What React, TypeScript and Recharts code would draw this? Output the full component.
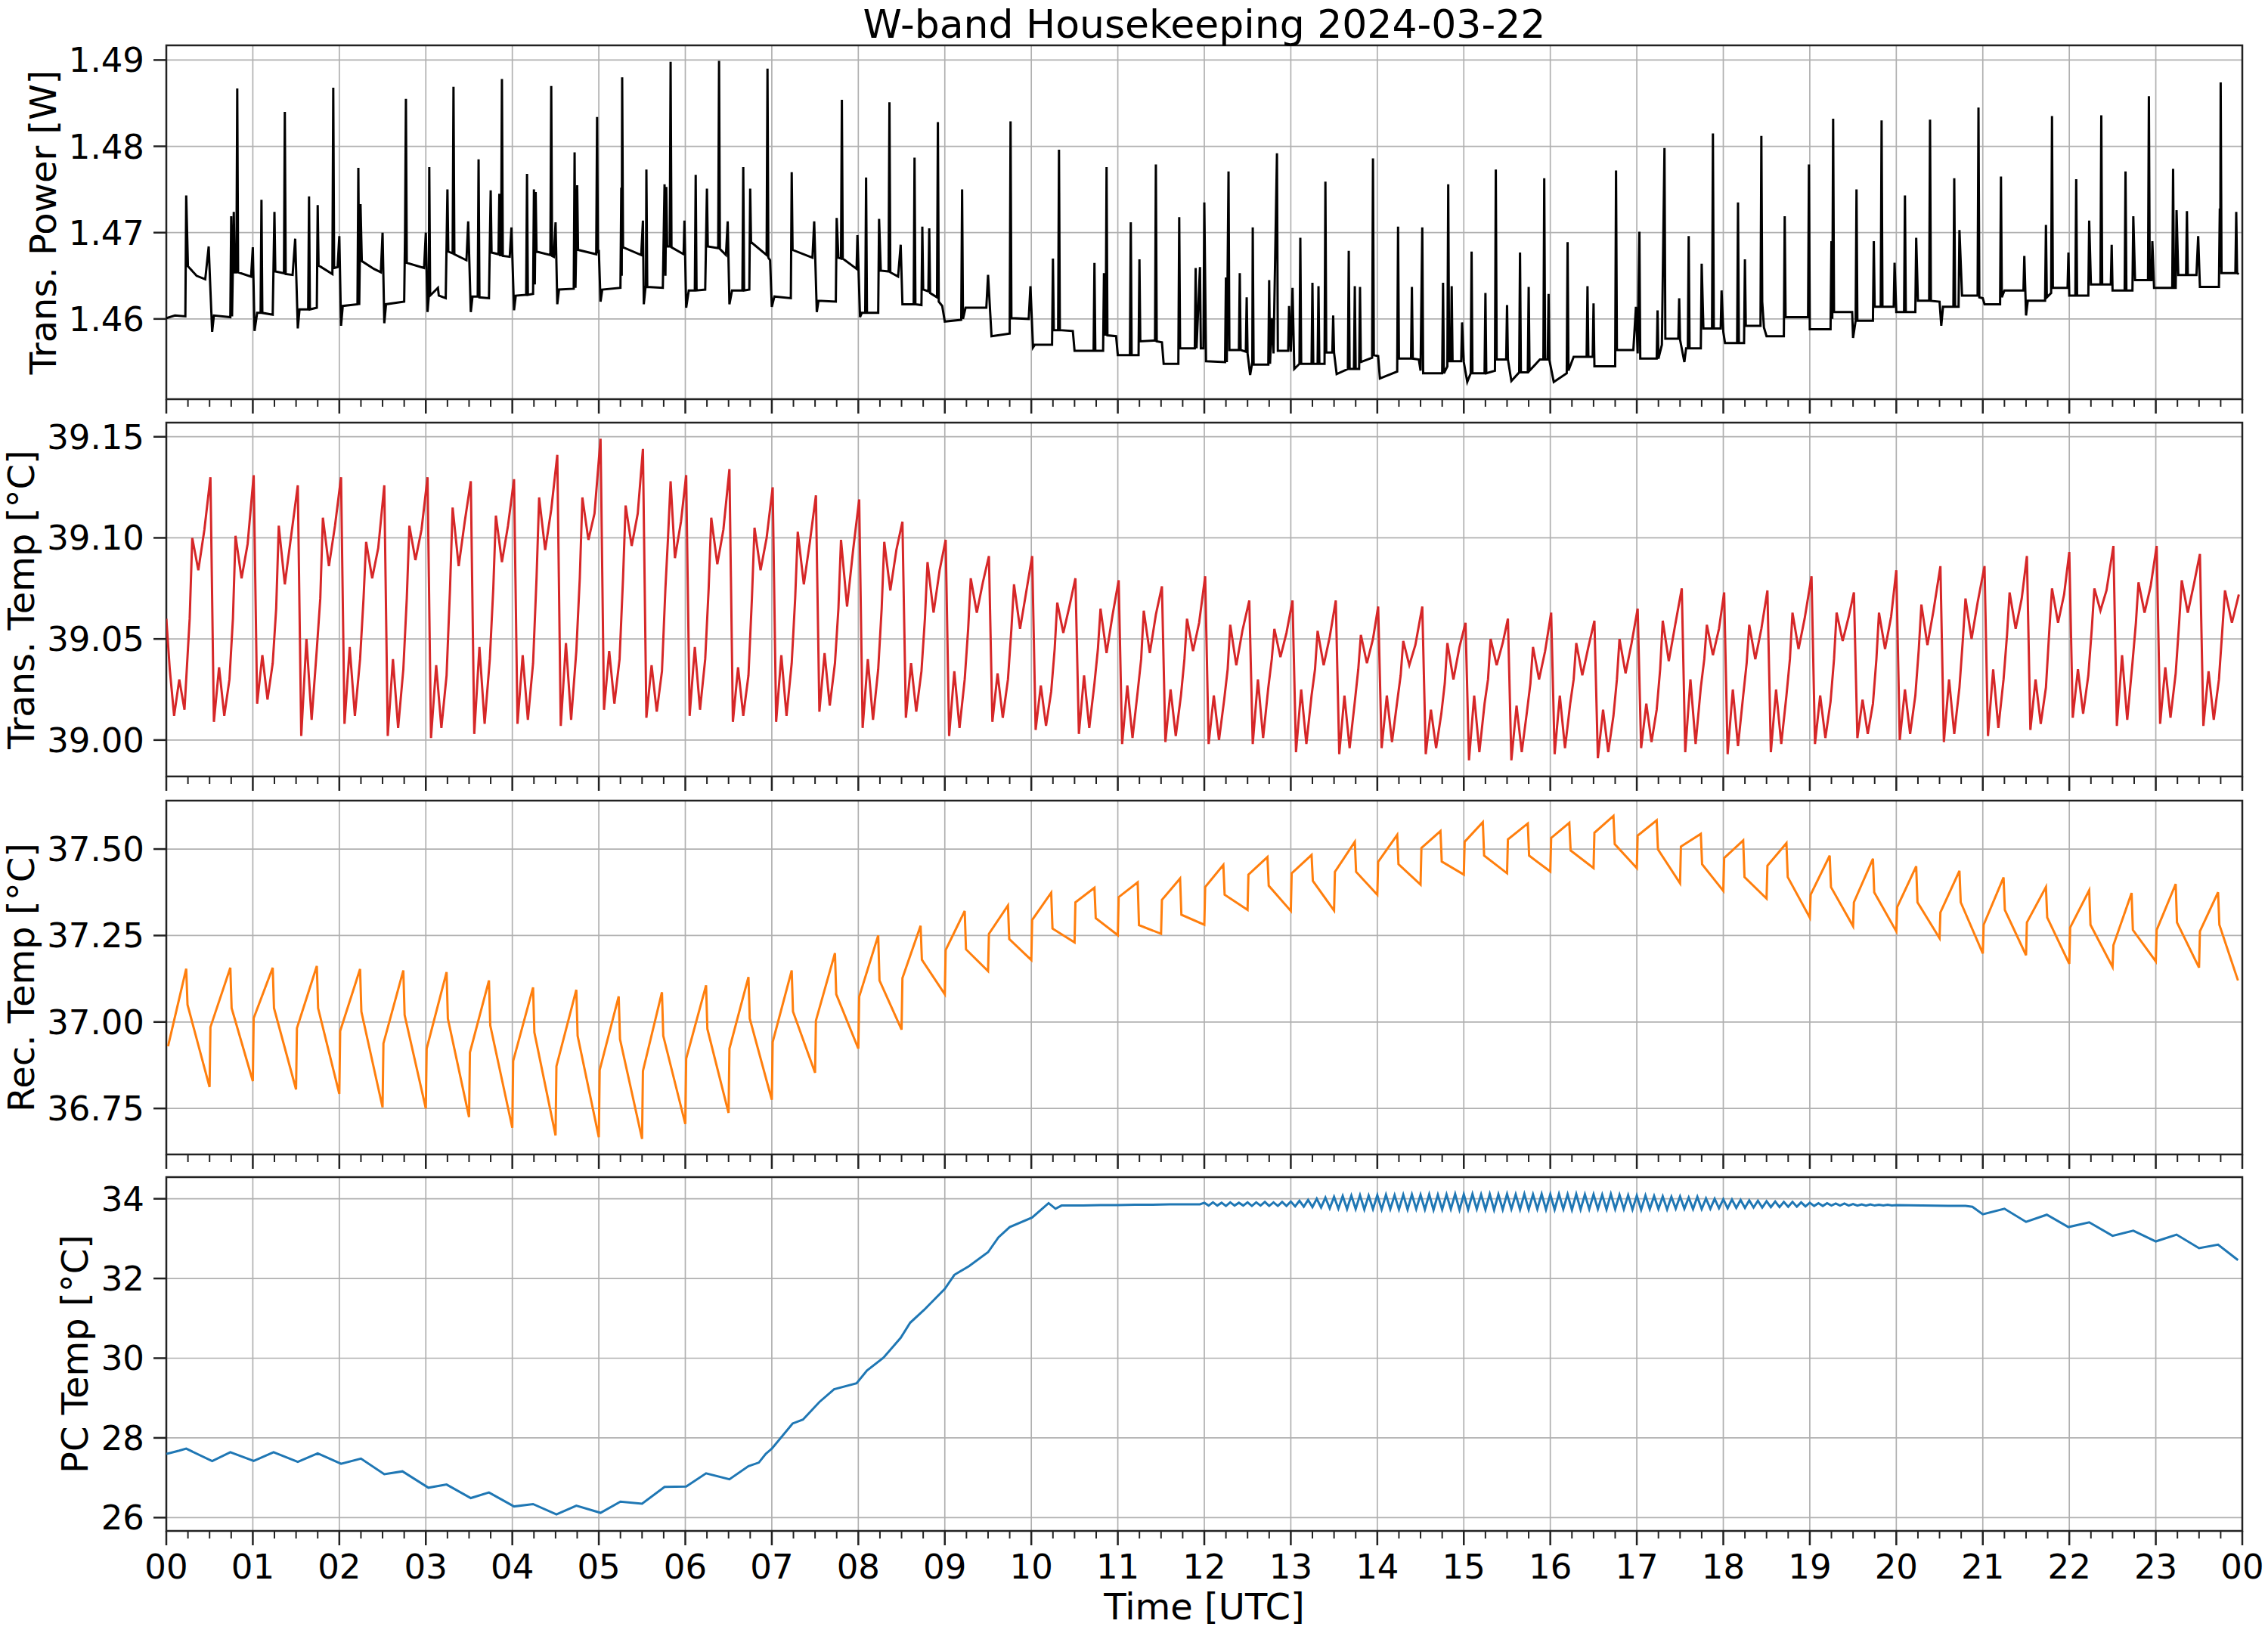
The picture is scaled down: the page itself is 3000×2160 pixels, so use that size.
import React from "react";
import {
  LineChart,
  Line,
  XAxis,
  YAxis,
  CartesianGrid,
  ReferenceArea,
} from "recharts";

type Pt = [number, number];

// time axis (hours UTC)
const hourTicks = Array.from({ length: 25 }, (_, i) => i);
const quarterTicks = Array.from({ length: 97 }, (_, i) => i / 4);

const powerTicks = [1.46, 1.47, 1.48, 1.49];
const transTempTicks = [39.0, 39.05, 39.1, 39.15];
const recTempTicks = [36.75, 37.0, 37.25, 37.5];
const pcTempTicks = [26, 28, 30, 32, 34];

const powerDomain: Pt = [1.4507, 1.4917];
const transTempDomain: Pt = [38.982, 39.157];
const recTempDomain: Pt = [36.617, 37.64];
const pcTempDomain: Pt = [25.665, 34.543];

// Trans. Power [W]
const transPower: Pt[] = [
  [0.0, 1.4601], [0.1, 1.4604], [0.22, 1.4603], [0.23, 1.4743], [0.25, 1.4661], [0.35, 1.465], [0.45, 1.4646], [0.49, 1.4684], [0.51, 1.4633], [0.53, 1.4585], [0.55, 1.4604],
  [0.74, 1.4602], [0.75, 1.4719], [0.76, 1.4603], [0.78, 1.4724], [0.79, 1.4654], [0.81, 1.4654], [0.82, 1.4867], [0.83, 1.4654], [0.98, 1.4649], [1.0, 1.4683], [1.02, 1.4586], [1.05, 1.4607],
  [1.09, 1.4607], [1.1, 1.4738], [1.11, 1.4607], [1.23, 1.4605], [1.25, 1.4724], [1.26, 1.4655], [1.36, 1.4653], [1.37, 1.484], [1.38, 1.4652], [1.46, 1.4651], [1.49, 1.4693], [1.52, 1.4589], [1.54, 1.4611],
  [1.64, 1.4611], [1.65, 1.4742], [1.66, 1.4611], [1.74, 1.4613], [1.75, 1.4732], [1.76, 1.4662], [1.92, 1.4652], [1.93, 1.4868], [1.94, 1.4659], [1.98, 1.466], [2.0, 1.4696], [2.02, 1.4592], [2.04, 1.4615],
  [2.21, 1.4617], [2.22, 1.4775], [2.23, 1.4616], [2.245, 1.4733], [2.26, 1.4667], [2.4, 1.4658], [2.48, 1.4654], [2.5, 1.47], [2.52, 1.4595], [2.54, 1.4617],
  [2.75, 1.462], [2.76, 1.47], [2.77, 1.4855], [2.78, 1.4665], [2.98, 1.4659], [3.0, 1.47], [3.02, 1.4608],
  [3.035, 1.4627], [3.04, 1.4776], [3.05, 1.4627], [3.14, 1.4636], [3.15, 1.4627], [3.23, 1.4624], [3.25, 1.475], [3.26, 1.4678], [3.31, 1.4676], [3.32, 1.4869], [3.33, 1.4675], [3.47, 1.4668], [3.49, 1.4713], [3.52, 1.4608], [3.54, 1.4626],
  [3.6, 1.4626], [3.61, 1.4785], [3.62, 1.4625], [3.73, 1.4624], [3.75, 1.4749], [3.76, 1.4677], [3.84, 1.4675], [3.85, 1.4745], [3.86, 1.4674], [3.87, 1.4674], [3.88, 1.4878], [3.89, 1.4673], [3.97, 1.4672], [3.99, 1.4706], [4.02, 1.461], [4.04, 1.4627],
  [4.16, 1.4628], [4.17, 1.4768], [4.18, 1.4628], [4.24, 1.4629], [4.25, 1.475], [4.26, 1.464], [4.27, 1.4747], [4.28, 1.4678], [4.44, 1.4674], [4.45, 1.487], [4.46, 1.4673], [4.48, 1.4672], [4.5, 1.4712], [4.52, 1.4617], [4.54, 1.4634],
  [4.71, 1.4635], [4.72, 1.4793], [4.73, 1.4636], [4.75, 1.4755], [4.76, 1.468], [4.97, 1.4675], [4.98, 1.4834], [4.99, 1.4676], [5.0, 1.468], [5.02, 1.462], [5.04, 1.4634],
  [5.25, 1.4636], [5.26, 1.4752], [5.265, 1.465], [5.27, 1.488], [5.28, 1.4683], [5.49, 1.4674], [5.51, 1.4714], [5.52, 1.4617], [5.54, 1.4637],
  [5.545, 1.4637], [5.55, 1.4773], [5.56, 1.4637], [5.74, 1.4636], [5.76, 1.4756], [5.77, 1.465], [5.78, 1.4753], [5.79, 1.4684], [5.82, 1.4684], [5.83, 1.4898], [5.84, 1.4683], [5.98, 1.4675], [5.99, 1.4714], [6.01, 1.4613], [6.04, 1.4633],
  [6.11, 1.4633], [6.12, 1.4767], [6.13, 1.4633], [6.23, 1.4634], [6.25, 1.4751], [6.26, 1.4684], [6.38, 1.4682], [6.39, 1.4899], [6.4, 1.4681], [6.47, 1.4674], [6.49, 1.4713], [6.51, 1.4617], [6.54, 1.4633],
  [6.66, 1.4633], [6.67, 1.4776], [6.68, 1.4633], [6.74, 1.4634], [6.75, 1.4751], [6.76, 1.4689], [6.94, 1.4674], [6.95, 1.489], [6.96, 1.4671], [6.98, 1.4668], [7.0, 1.4614], [7.03, 1.4626],
  [7.22, 1.4624], [7.23, 1.477], [7.24, 1.468], [7.47, 1.4671], [7.49, 1.4713], [7.52, 1.4608], [7.54, 1.4621],
  [7.74, 1.462], [7.75, 1.4717], [7.77, 1.4671], [7.8, 1.467], [7.81, 1.4854], [7.82, 1.467], [7.98, 1.4658], [7.99, 1.4697], [8.02, 1.4602], [8.04, 1.4607],
  [8.08, 1.4607], [8.09, 1.4764], [8.1, 1.4607], [8.23, 1.4607], [8.24, 1.4716], [8.26, 1.4656], [8.35, 1.4655], [8.36, 1.4851], [8.37, 1.4654], [8.46, 1.4649], [8.49, 1.4686], [8.51, 1.4617],
  [8.64, 1.4617], [8.65, 1.4787], [8.66, 1.4617], [8.73, 1.4616], [8.74, 1.4707], [8.75, 1.4634], [8.81, 1.4632], [8.82, 1.4705], [8.83, 1.463], [8.91, 1.4625], [8.92, 1.4828], [8.93, 1.462], [8.97, 1.4615], [9.0, 1.4597],
  [9.19, 1.4599], [9.2, 1.475], [9.21, 1.46], [9.24, 1.4613], [9.48, 1.4613], [9.5, 1.4651], [9.54, 1.458],
  [9.75, 1.4583], [9.76, 1.4829], [9.77, 1.4601], [9.97, 1.46], [9.99, 1.4638], [10.02, 1.4567], [10.04, 1.457],
  [10.24, 1.457], [10.25, 1.467], [10.26, 1.4587], [10.31, 1.4587], [10.32, 1.4796], [10.33, 1.4587], [10.48, 1.4586], [10.5, 1.4563],
  [10.72, 1.4563], [10.73, 1.4665], [10.74, 1.4563], [10.83, 1.4563], [10.84, 1.4653], [10.85, 1.4582], [10.86, 1.4582], [10.87, 1.4776], [10.88, 1.4581], [10.98, 1.458], [11.0, 1.4558],
  [11.14, 1.4558], [11.15, 1.4712], [11.16, 1.4558], [11.24, 1.4558], [11.25, 1.4669], [11.26, 1.4574], [11.43, 1.4575], [11.44, 1.4779], [11.45, 1.4574], [11.51, 1.4573], [11.53, 1.4548],
  [11.7, 1.4548], [11.71, 1.4718], [11.72, 1.4566], [11.89, 1.4566], [11.9, 1.4659], [11.91, 1.4566], [11.95, 1.466], [11.96, 1.4566], [11.99, 1.4566], [12.0, 1.4735], [12.02, 1.4551],
  [12.24, 1.455], [12.25, 1.4648], [12.26, 1.455], [12.28, 1.4771], [12.29, 1.4564], [12.4, 1.4564], [12.41, 1.4653], [12.42, 1.4564], [12.48, 1.4562], [12.49, 1.4625], [12.5, 1.456], [12.53, 1.4535], [12.555, 1.455], [12.56, 1.4706], [12.57, 1.4547],
  [12.74, 1.4547], [12.75, 1.4645], [12.76, 1.4548], [12.78, 1.4601], [12.8, 1.456], [12.84, 1.4792], [12.85, 1.4563], [12.97, 1.4563], [12.98, 1.4615], [13.0, 1.4562], [13.02, 1.4636], [13.04, 1.4542],
  [13.1, 1.4548], [13.11, 1.4694], [13.12, 1.4548], [13.24, 1.4548], [13.25, 1.4642], [13.26, 1.4548], [13.31, 1.4548], [13.32, 1.4638], [13.33, 1.4548], [13.39, 1.4548], [13.4, 1.4759], [13.41, 1.4561], [13.48, 1.4561], [13.49, 1.4604], [13.5, 1.4561], [13.53, 1.4536],
  [13.66, 1.4542], [13.67, 1.4679], [13.68, 1.4542], [13.73, 1.4542], [13.74, 1.4638], [13.75, 1.4542], [13.79, 1.4542], [13.8, 1.4637], [13.81, 1.455], [13.94, 1.4555], [13.95, 1.4786], [13.96, 1.4558], [14.01, 1.4557], [14.03, 1.4531],
  [14.23, 1.4539], [14.24, 1.4707], [14.25, 1.4554], [14.39, 1.4554], [14.4, 1.4637], [14.41, 1.4554], [14.48, 1.4553], [14.5, 1.454], [14.52, 1.4706], [14.53, 1.4537],
  [14.75, 1.4537], [14.76, 1.4642], [14.77, 1.4537], [14.81, 1.4545], [14.82, 1.4756], [14.83, 1.4551], [14.85, 1.4551], [14.86, 1.4638], [14.87, 1.4551], [14.97, 1.4551], [14.98, 1.4596], [15.0, 1.455], [15.04, 1.4527],
  [15.08, 1.4537], [15.09, 1.4678], [15.1, 1.4537], [15.24, 1.4537], [15.25, 1.463], [15.26, 1.4537], [15.36, 1.454], [15.37, 1.4773], [15.38, 1.4553], [15.49, 1.4553], [15.5, 1.4616], [15.51, 1.4553], [15.55, 1.4528],
  [15.64, 1.4538], [15.65, 1.4677], [15.66, 1.4538], [15.74, 1.4538], [15.75, 1.4637], [15.76, 1.454], [15.88, 1.4553], [15.92, 1.4553], [15.93, 1.4763], [15.94, 1.4553], [15.97, 1.4553], [15.98, 1.4629], [15.99, 1.4552], [16.04, 1.4527],
  [16.19, 1.4537], [16.2, 1.4689], [16.21, 1.454], [16.27, 1.4556], [16.42, 1.4556], [16.43, 1.4638], [16.44, 1.4556], [16.49, 1.4556], [16.5, 1.4618], [16.51, 1.4545],
  [16.75, 1.4545], [16.76, 1.4772], [16.77, 1.4564], [16.96, 1.4564], [16.99, 1.4614], [17.01, 1.456], [17.03, 1.4701], [17.04, 1.4554],
  [17.23, 1.4554], [17.24, 1.461], [17.25, 1.4554], [17.29, 1.457], [17.32, 1.4798], [17.33, 1.4577], [17.48, 1.4577], [17.49, 1.4624], [17.5, 1.4576], [17.55, 1.455], [17.57, 1.4566],
  [17.59, 1.4566], [17.6, 1.4696], [17.61, 1.4566], [17.74, 1.4566], [17.75, 1.4664], [17.77, 1.4589], [17.87, 1.4589], [17.88, 1.4815], [17.89, 1.4589], [17.97, 1.4589], [17.98, 1.4633], [18.0, 1.4585], [18.02, 1.4572],
  [18.16, 1.4572], [18.17, 1.4735], [18.18, 1.4572], [18.24, 1.4572], [18.25, 1.4669], [18.26, 1.4592], [18.43, 1.4592], [18.44, 1.4812], [18.45, 1.462], [18.47, 1.459], [18.5, 1.458],
  [18.7, 1.458], [18.71, 1.4719], [18.72, 1.4602], [18.98, 1.4602], [18.99, 1.4779], [19.0, 1.4588],
  [19.24, 1.4588], [19.25, 1.469], [19.26, 1.46], [19.27, 1.4832], [19.28, 1.4608], [19.49, 1.4608], [19.5, 1.4578], [19.53, 1.4598], [19.54, 1.475], [19.55, 1.4598],
  [19.73, 1.4598], [19.74, 1.469], [19.75, 1.4614], [19.82, 1.4614], [19.83, 1.483], [19.84, 1.4614], [19.97, 1.4614], [19.98, 1.4665], [20.0, 1.4608],
  [20.09, 1.4608], [20.1, 1.4743], [20.11, 1.4608], [20.22, 1.4608], [20.23, 1.4694], [20.25, 1.4621], [20.38, 1.4621], [20.39, 1.4831], [20.4, 1.4621], [20.5, 1.462], [20.52, 1.4592], [20.54, 1.4614],
  [20.66, 1.4614], [20.67, 1.4763], [20.68, 1.4614], [20.72, 1.4614], [20.73, 1.4703], [20.76, 1.4627], [20.94, 1.4627], [20.95, 1.4845], [20.96, 1.4625], [21.0, 1.4624], [21.02, 1.4617],
  [21.2, 1.4617], [21.21, 1.4765], [21.22, 1.4625], [21.25, 1.4633], [21.47, 1.4633], [21.48, 1.4673], [21.5, 1.4604], [21.52, 1.4621],
  [21.72, 1.4621], [21.73, 1.4709], [21.74, 1.4625], [21.79, 1.463], [21.8, 1.4835], [21.81, 1.4636], [21.98, 1.4636], [21.99, 1.4677], [22.0, 1.4627],
  [22.07, 1.4627], [22.08, 1.4762], [22.09, 1.4627], [22.22, 1.4627], [22.23, 1.4714], [22.25, 1.464], [22.36, 1.464], [22.37, 1.4836], [22.38, 1.464], [22.48, 1.464], [22.49, 1.4686], [22.5, 1.4633],
  [22.64, 1.4633], [22.65, 1.4771], [22.66, 1.4633], [22.73, 1.4633], [22.74, 1.4719], [22.76, 1.4645], [22.91, 1.4645], [22.92, 1.4858], [22.93, 1.4645], [22.95, 1.4645], [22.96, 1.469], [22.98, 1.4636],
  [23.19, 1.4636], [23.2, 1.4774], [23.21, 1.4636], [23.23, 1.4636], [23.24, 1.4726], [23.26, 1.4651], [23.35, 1.4651], [23.36, 1.4725], [23.37, 1.4651], [23.47, 1.4651], [23.49, 1.4696], [23.51, 1.4637],
  [23.73, 1.4637], [23.74, 1.4728], [23.745, 1.466], [23.75, 1.4874], [23.76, 1.4653], [23.92, 1.4653], [23.93, 1.4724], [23.94, 1.4653], [23.96, 1.4652],
];

// Trans. Temp [°C]
const transTemp: Pt[] = [
  [0.0, 39.06], [0.04, 39.035], [0.09, 39.012], [0.15, 39.03], [0.21, 39.015], [0.27, 39.06], [0.3, 39.1], [0.37, 39.084], [0.44, 39.104],
  [0.51, 39.13], [0.55, 39.009], [0.61, 39.036], [0.67, 39.012], [0.73, 39.03], [0.77, 39.06], [0.8, 39.101], [0.87, 39.08], [0.94, 39.097],
  [1.01, 39.131], [1.05, 39.018], [1.11, 39.042], [1.17, 39.02], [1.23, 39.038], [1.27, 39.065], [1.3, 39.106], [1.37, 39.077], [1.44, 39.1],
  [1.52, 39.126], [1.56, 39.002], [1.62, 39.05], [1.68, 39.01], [1.74, 39.045], [1.78, 39.07], [1.81, 39.11], [1.88, 39.086], [1.95, 39.106],
  [2.02, 39.13], [2.06, 39.008], [2.12, 39.046], [2.18, 39.012], [2.24, 39.04], [2.28, 39.07], [2.31, 39.098], [2.38, 39.08], [2.45, 39.095],
  [2.52, 39.126], [2.56, 39.002], [2.62, 39.04], [2.68, 39.006], [2.74, 39.035], [2.78, 39.07], [2.81, 39.106], [2.88, 39.089], [2.95, 39.104],
  [3.02, 39.13], [3.06, 39.001], [3.12, 39.037], [3.18, 39.006], [3.24, 39.032], [3.28, 39.075], [3.31, 39.115], [3.38, 39.086], [3.45, 39.108],
  [3.52, 39.128], [3.56, 39.003], [3.62, 39.046], [3.68, 39.008], [3.74, 39.04], [3.78, 39.075], [3.81, 39.111], [3.88, 39.088], [3.95, 39.106],
  [4.02, 39.129], [4.06, 39.008], [4.12, 39.042], [4.18, 39.01], [4.24, 39.038], [4.28, 39.08], [4.31, 39.12], [4.38, 39.094], [4.45, 39.114],
  [4.52, 39.141], [4.56, 39.007], [4.62, 39.048], [4.68, 39.01], [4.74, 39.044], [4.78, 39.08], [4.81, 39.12], [4.88, 39.099], [4.95, 39.112],
  [5.02, 39.149], [5.06, 39.015], [5.12, 39.044], [5.18, 39.018], [5.24, 39.04], [5.28, 39.08], [5.31, 39.116], [5.38, 39.096], [5.45, 39.112],
  [5.51, 39.144], [5.55, 39.011], [5.61, 39.037], [5.67, 39.014], [5.73, 39.034], [5.77, 39.075], [5.8, 39.1], [5.83, 39.128], [5.88, 39.09], [5.95, 39.108],
  [6.01, 39.131], [6.05, 39.012], [6.11, 39.046], [6.17, 39.015], [6.23, 39.04], [6.27, 39.075], [6.3, 39.11], [6.37, 39.087], [6.44, 39.104],
  [6.51, 39.134], [6.55, 39.009], [6.61, 39.036], [6.67, 39.012], [6.73, 39.032], [6.77, 39.07], [6.8, 39.105], [6.87, 39.084], [6.94, 39.1],
  [7.01, 39.125], [7.05, 39.009], [7.11, 39.042], [7.17, 39.012], [7.23, 39.038], [7.27, 39.07], [7.3, 39.103], [7.37, 39.077], [7.44, 39.098],
  [7.51, 39.121], [7.55, 39.014], [7.61, 39.043], [7.67, 39.017], [7.73, 39.038], [7.77, 39.065], [7.8, 39.099], [7.87, 39.066], [7.94, 39.094],
  [8.01, 39.119], [8.05, 39.006], [8.11, 39.04], [8.17, 39.01], [8.23, 39.035], [8.27, 39.065], [8.3, 39.098], [8.37, 39.074], [8.44, 39.094],
  [8.51, 39.108], [8.55, 39.011], [8.61, 39.038], [8.67, 39.014], [8.73, 39.034], [8.77, 39.06], [8.8, 39.088], [8.87, 39.063], [8.94, 39.084],
  [9.01, 39.099], [9.05, 39.002], [9.11, 39.034], [9.17, 39.006], [9.23, 39.03], [9.27, 39.055], [9.3, 39.08], [9.37, 39.063], [9.44, 39.078],
  [9.51, 39.091], [9.55, 39.009], [9.61, 39.033], [9.67, 39.011], [9.73, 39.03], [9.77, 39.055], [9.8, 39.077], [9.87, 39.055], [9.94, 39.073],
  [10.01, 39.091], [10.05, 39.005], [10.11, 39.027], [10.17, 39.007], [10.23, 39.024], [10.27, 39.045], [10.3, 39.068], [10.37, 39.053], [10.44, 39.066],
  [10.51, 39.08], [10.55, 39.003], [10.61, 39.032], [10.67, 39.006], [10.73, 39.028], [10.77, 39.045], [10.8, 39.065], [10.87, 39.043], [10.94, 39.062],
  [11.01, 39.079], [11.05, 38.998], [11.11, 39.027], [11.17, 39.001], [11.23, 39.024], [11.27, 39.04], [11.3, 39.064], [11.37, 39.043], [11.44, 39.062],
  [11.51, 39.076], [11.55, 38.999], [11.61, 39.025], [11.67, 39.002], [11.73, 39.022], [11.77, 39.04], [11.8, 39.06], [11.87, 39.044], [11.94, 39.058],
  [12.01, 39.081], [12.05, 38.998], [12.11, 39.022], [12.17, 39.0], [12.23, 39.02], [12.27, 39.035], [12.3, 39.057], [12.37, 39.037], [12.44, 39.054],
  [12.52, 39.069], [12.56, 38.998], [12.62, 39.03], [12.68, 39.001], [12.74, 39.026], [12.78, 39.04], [12.81, 39.055], [12.88, 39.041], [12.95, 39.053],
  [13.02, 39.069], [13.06, 38.994], [13.12, 39.025], [13.18, 38.998], [13.24, 39.022], [13.28, 39.035], [13.31, 39.054], [13.38, 39.037], [13.45, 39.051],
  [13.52, 39.069], [13.56, 38.993], [13.62, 39.022], [13.68, 38.996], [13.74, 39.019], [13.78, 39.035], [13.81, 39.052], [13.88, 39.038], [13.95, 39.05],
  [14.01, 39.066], [14.05, 38.996], [14.11, 39.022], [14.17, 38.999], [14.23, 39.019], [14.27, 39.032], [14.3, 39.049], [14.37, 39.037], [14.44, 39.047],
  [14.52, 39.066], [14.56, 38.993], [14.62, 39.015], [14.68, 38.996], [14.74, 39.013], [14.78, 39.028], [14.81, 39.048], [14.88, 39.03], [14.95, 39.046],
  [15.02, 39.058], [15.06, 38.99], [15.12, 39.022], [15.18, 38.994], [15.24, 39.018], [15.28, 39.03], [15.31, 39.05], [15.38, 39.037], [15.45, 39.048],
  [15.51, 39.06], [15.55, 38.99], [15.61, 39.017], [15.67, 38.994], [15.73, 39.014], [15.77, 39.028], [15.8, 39.046], [15.87, 39.03], [15.94, 39.044],
  [16.01, 39.063], [16.05, 38.993], [16.11, 39.022], [16.17, 38.996], [16.23, 39.018], [16.27, 39.03], [16.3, 39.048], [16.37, 39.032], [16.44, 39.046],
  [16.51, 39.059], [16.55, 38.991], [16.61, 39.015], [16.67, 38.994], [16.73, 39.012], [16.77, 39.03], [16.8, 39.05], [16.87, 39.033], [16.94, 39.048],
  [17.01, 39.065], [17.05, 38.996], [17.11, 39.018], [17.17, 38.999], [17.23, 39.015], [17.27, 39.035], [17.3, 39.059], [17.37, 39.039], [17.44, 39.056],
  [17.52, 39.075], [17.56, 38.994], [17.62, 39.03], [17.68, 38.998], [17.74, 39.026], [17.78, 39.04], [17.81, 39.057], [17.88, 39.042], [17.95, 39.055],
  [18.01, 39.073], [18.05, 38.993], [18.11, 39.025], [18.17, 38.997], [18.23, 39.022], [18.27, 39.038], [18.3, 39.057], [18.37, 39.04], [18.44, 39.055],
  [18.51, 39.074], [18.55, 38.994], [18.61, 39.025], [18.67, 38.998], [18.73, 39.022], [18.77, 39.04], [18.8, 39.063], [18.87, 39.045], [18.94, 39.06],
  [19.02, 39.081], [19.06, 38.998], [19.12, 39.022], [19.18, 39.001], [19.24, 39.019], [19.28, 39.04], [19.31, 39.063], [19.38, 39.049], [19.45, 39.061],
  [19.51, 39.073], [19.55, 39.001], [19.61, 39.02], [19.67, 39.003], [19.73, 39.018], [19.77, 39.04], [19.8, 39.063], [19.87, 39.045], [19.94, 39.061],
  [20.0, 39.084], [20.04, 39.0], [20.1, 39.025], [20.16, 39.003], [20.22, 39.022], [20.26, 39.045], [20.29, 39.067], [20.36, 39.047], [20.43, 39.064],
  [20.51, 39.086], [20.55, 38.999], [20.61, 39.03], [20.67, 39.003], [20.73, 39.026], [20.77, 39.05], [20.8, 39.07], [20.87, 39.05], [20.94, 39.068],
  [21.02, 39.086], [21.06, 39.002], [21.12, 39.035], [21.18, 39.006], [21.24, 39.03], [21.28, 39.052], [21.31, 39.073], [21.38, 39.055], [21.45, 39.07],
  [21.51, 39.091], [21.55, 39.005], [21.61, 39.03], [21.67, 39.008], [21.73, 39.026], [21.77, 39.055], [21.8, 39.075], [21.87, 39.058], [21.94, 39.072],
  [22.0, 39.093], [22.04, 39.011], [22.1, 39.035], [22.16, 39.013], [22.22, 39.032], [22.26, 39.055], [22.29, 39.075], [22.36, 39.064], [22.43, 39.074],
  [22.51, 39.096], [22.55, 39.007], [22.61, 39.042], [22.67, 39.01], [22.73, 39.038], [22.77, 39.058], [22.8, 39.078], [22.87, 39.063], [22.94, 39.076],
  [23.01, 39.096], [23.05, 39.008], [23.11, 39.036], [23.17, 39.011], [23.23, 39.033], [23.27, 39.058], [23.3, 39.079], [23.37, 39.063], [23.44, 39.077],
  [23.51, 39.092], [23.55, 39.007], [23.61, 39.034], [23.67, 39.01], [23.73, 39.03], [23.77, 39.055], [23.8, 39.074], [23.88, 39.058], [23.96, 39.072],
];

// Rec. Temp [°C]
const recTemp: Pt[] = [
  [0.02, 36.93], [0.23, 37.154], [0.245, 37.05],
  [0.5, 36.812], [0.51, 36.985], [0.74, 37.157], [0.755, 37.04],
  [1.0, 36.829], [1.01, 37.011], [1.23, 37.157], [1.245, 37.04],
  [1.5, 36.805], [1.51, 36.982], [1.74, 37.162], [1.755, 37.04],
  [2.0, 36.792], [2.01, 36.974], [2.24, 37.153], [2.255, 37.03],
  [2.5, 36.753], [2.51, 36.938], [2.74, 37.149], [2.755, 37.02],
  [3.0, 36.75], [3.01, 36.923], [3.24, 37.144], [3.255, 37.01],
  [3.5, 36.725], [3.51, 36.912], [3.73, 37.12], [3.745, 36.99],
  [4.0, 36.694], [4.01, 36.887], [4.24, 37.1], [4.255, 36.97],
  [4.5, 36.672], [4.51, 36.872], [4.74, 37.093], [4.755, 36.96],
  [5.0, 36.667], [5.01, 36.861], [5.23, 37.074], [5.245, 36.95],
  [5.5, 36.662], [5.51, 36.858], [5.73, 37.086], [5.745, 36.96],
  [6.0, 36.705], [6.01, 36.894], [6.24, 37.106], [6.255, 36.98],
  [6.5, 36.737], [6.51, 36.923], [6.73, 37.13], [6.745, 37.01],
  [7.0, 36.775], [7.01, 36.942], [7.23, 37.149], [7.245, 37.03],
  [7.5, 36.853], [7.51, 37.004], [7.73, 37.199], [7.745, 37.08],
  [8.0, 36.923], [8.01, 37.073], [8.23, 37.25], [8.245, 37.12],
  [8.5, 36.978], [8.51, 37.127], [8.72, 37.278], [8.735, 37.18],
  [9.0, 37.08], [9.01, 37.208], [9.23, 37.321], [9.245, 37.21],
  [9.5, 37.147], [9.51, 37.255], [9.73, 37.337], [9.745, 37.24],
  [10.0, 37.179], [10.01, 37.295], [10.23, 37.374], [10.245, 37.27],
  [10.5, 37.23], [10.51, 37.346], [10.73, 37.388], [10.745, 37.3],
  [11.0, 37.251], [11.01, 37.361], [11.23, 37.404], [11.245, 37.28],
  [11.5, 37.255], [11.51, 37.353], [11.72, 37.415], [11.735, 37.31],
  [12.0, 37.281], [12.01, 37.39], [12.22, 37.454], [12.235, 37.368],
  [12.5, 37.324], [12.51, 37.426], [12.73, 37.477], [12.745, 37.394],
  [13.0, 37.321], [13.01, 37.43], [13.24, 37.483], [13.255, 37.408],
  [13.5, 37.322], [13.51, 37.434], [13.74, 37.521], [13.755, 37.434],
  [14.0, 37.368], [14.01, 37.463], [14.23, 37.541], [14.245, 37.456],
  [14.5, 37.397], [14.51, 37.503], [14.73, 37.552], [14.745, 37.464],
  [15.0, 37.426], [15.01, 37.521], [15.22, 37.578], [15.235, 37.481],
  [15.5, 37.43], [15.51, 37.528], [15.74, 37.574], [15.755, 37.481],
  [16.0, 37.435], [16.01, 37.532], [16.22, 37.576], [16.235, 37.496],
  [16.5, 37.445], [16.51, 37.547], [16.73, 37.596], [16.745, 37.514],
  [17.0, 37.445], [17.01, 37.539], [17.23, 37.583], [17.245, 37.499],
  [17.5, 37.401], [17.51, 37.507], [17.74, 37.544], [17.755, 37.456],
  [18.0, 37.379], [18.01, 37.474], [18.23, 37.525], [18.245, 37.419],
  [18.5, 37.357], [18.51, 37.452], [18.73, 37.517], [18.745, 37.419],
  [19.0, 37.302], [19.01, 37.368], [19.23, 37.481], [19.245, 37.39],
  [19.5, 37.277], [19.51, 37.346], [19.73, 37.472], [19.745, 37.375],
  [20.0, 37.262], [20.01, 37.332], [20.23, 37.45], [20.245, 37.346],
  [20.5, 37.242], [20.51, 37.317], [20.73, 37.437], [20.745, 37.346],
  [21.0, 37.198], [21.01, 37.281], [21.24, 37.418], [21.255, 37.324],
  [21.5, 37.193], [21.51, 37.288], [21.73, 37.39], [21.745, 37.302],
  [22.0, 37.168], [22.01, 37.273], [22.23, 37.381], [22.245, 37.281],
  [22.5, 37.159], [22.51, 37.222], [22.72, 37.373], [22.735, 37.266],
  [23.0, 37.175], [23.01, 37.266], [23.23, 37.399], [23.245, 37.288],
  [23.5, 37.157], [23.51, 37.262], [23.72, 37.375], [23.735, 37.281],
  [23.95, 37.12],
];

// PC Temp [°C]
const pcTemp: Pt[] = [
  [0.0, 27.6], [0.04, 27.62], [0.15, 27.68], [0.23, 27.73], [0.53, 27.42], [0.74, 27.64], [1.01, 27.42], [1.24, 27.64],
  [1.52, 27.4], [1.75, 27.61], [2.02, 27.35], [2.25, 27.48], [2.52, 27.09], [2.73, 27.16], [3.03, 26.75], [3.24, 26.83],
  [3.52, 26.49], [3.73, 26.63], [4.02, 26.28], [4.24, 26.34], [4.51, 26.08], [4.74, 26.3], [5.02, 26.12], [5.25, 26.4],
  [5.5, 26.35], [5.76, 26.77], [6.01, 26.78], [6.24, 27.11], [6.51, 26.96], [6.73, 27.29], [6.85, 27.38], [6.93, 27.6],
  [7.0, 27.73], [7.24, 28.36], [7.36, 28.46], [7.55, 28.9], [7.72, 29.22], [7.98, 29.37], [8.1, 29.69], [8.29, 30.01],
  [8.49, 30.51], [8.6, 30.89], [8.76, 31.21], [9.0, 31.74], [9.11, 32.09], [9.28, 32.31], [9.5, 32.66], [9.62, 33.03],
  [9.75, 33.29], [10.01, 33.53], [10.2, 33.89], [10.28, 33.75], [10.35, 33.83], [10.6, 33.83], [10.8, 33.84], [11.0, 33.84],
  [11.2, 33.85], [11.4, 33.85], [11.6, 33.86], [11.8, 33.86], [11.95, 33.86],
  [12.0, 33.9], [12.05, 33.83], [12.1, 33.91], [12.15, 33.83], [12.2, 33.9], [12.25, 33.82], [12.3, 33.91], [12.35, 33.83],
  [12.4, 33.9], [12.45, 33.83], [12.5, 33.91], [12.55, 33.82], [12.6, 33.91], [12.65, 33.83], [12.7, 33.92], [12.75, 33.82],
  [12.8, 33.91], [12.85, 33.82], [12.9, 33.92], [12.95, 33.82],
  [13.0, 33.93], [13.05, 33.81], [13.1, 33.95], [13.15, 33.8], [13.2, 33.97], [13.25, 33.79], [13.3, 34.0], [13.35, 33.78],
  [13.4, 34.03], [13.45, 33.76], [13.5, 34.05], [13.55, 33.75], [13.6, 34.07], [13.65, 33.74], [13.7, 34.08], [13.75, 33.74],
  [13.8, 34.09], [13.85, 33.73], [13.9, 34.08], [13.95, 33.74],
  [14.0, 34.09], [14.05, 33.73], [14.1, 34.1], [14.15, 33.74], [14.2, 34.09], [14.25, 33.73], [14.3, 34.1], [14.35, 33.73],
  [14.4, 34.11], [14.45, 33.74], [14.5, 34.1], [14.55, 33.73], [14.6, 34.11], [14.65, 33.72], [14.7, 34.1], [14.75, 33.73],
  [14.8, 34.11], [14.85, 33.74], [14.9, 34.12], [14.95, 33.72],
  [15.0, 34.11], [15.05, 33.73], [15.1, 34.12], [15.15, 33.74], [15.2, 34.11], [15.25, 33.73], [15.3, 34.12], [15.35, 33.72],
  [15.4, 34.11], [15.45, 33.73], [15.5, 34.12], [15.55, 33.74], [15.6, 34.11], [15.65, 33.73], [15.7, 34.12], [15.75, 33.73],
  [15.8, 34.11], [15.85, 33.74], [15.9, 34.12], [15.95, 33.73],
  [16.0, 34.11], [16.05, 33.73], [16.1, 34.12], [16.15, 33.74], [16.2, 34.11], [16.25, 33.72], [16.3, 34.12], [16.35, 33.73],
  [16.4, 34.11], [16.45, 33.74], [16.5, 34.11], [16.55, 33.74], [16.6, 34.1], [16.65, 33.73], [16.7, 34.12], [16.75, 33.74],
  [16.8, 34.1], [16.85, 33.74], [16.9, 34.09], [16.95, 33.73],
  [17.0, 34.08], [17.05, 33.72], [17.1, 34.08], [17.15, 33.74], [17.2, 34.07], [17.25, 33.74], [17.3, 34.06], [17.35, 33.73],
  [17.4, 34.05], [17.45, 33.75], [17.5, 34.06], [17.55, 33.75], [17.6, 34.03], [17.65, 33.74], [17.7, 34.05], [17.75, 33.74],
  [17.8, 34.01], [17.85, 33.75], [17.9, 34.0], [17.95, 33.76],
  [18.0, 33.99], [18.05, 33.76], [18.1, 33.98], [18.15, 33.77], [18.2, 33.97], [18.25, 33.77], [18.3, 33.96], [18.35, 33.78],
  [18.4, 33.95], [18.45, 33.78], [18.5, 33.94], [18.55, 33.79], [18.6, 33.93], [18.65, 33.79], [18.7, 33.92], [18.75, 33.8],
  [18.8, 33.92], [18.85, 33.8], [18.9, 33.91], [18.95, 33.81],
  [19.0, 33.9], [19.05, 33.82], [19.1, 33.89], [19.15, 33.82], [19.2, 33.89], [19.25, 33.83], [19.3, 33.88], [19.35, 33.83],
  [19.4, 33.88], [19.45, 33.83], [19.5, 33.87], [19.55, 33.83], [19.6, 33.86], [19.65, 33.83], [19.7, 33.86], [19.75, 33.83],
  [19.8, 33.85], [19.85, 33.83], [19.9, 33.85], [19.95, 33.83],
  [20.0, 33.84], [20.3, 33.83], [20.6, 33.82], [20.8, 33.82], [20.88, 33.8], [21.0, 33.61], [21.25, 33.75], [21.5, 33.42],
  [21.74, 33.6], [21.99, 33.29], [22.23, 33.41], [22.5, 33.07], [22.74, 33.2], [23.0, 32.93], [23.24, 33.1], [23.5, 32.76],
  [23.72, 32.85], [23.95, 32.46],
];

const toRows = (pts: Pt[]) => pts.map(([t, v]) => ({ t, v }));

const PLOT_H = 468;
const FONT = "'DejaVu Sans', sans-serif";
const SPINE = "#222222";

const XTick = (props: any) => {
  const { x, y, payload, showLabels } = props;
  const v = payload.value as number;
  const major = Math.abs(v - Math.round(v)) < 1e-6;
  const label = String(Math.round(v) % 24).padStart(2, "0");
  return (
    <g>
      <line
        x1={x}
        x2={x}
        y1={y}
        y2={y + (major ? 19 : 10)}
        stroke={SPINE}
        strokeWidth={major ? 2.5 : 2}
      />
      {showLabels && major ? (
        <text x={x} y={y + 63} textAnchor="middle" fontSize={45} fill="#000">
          {label}
        </text>
      ) : null}
    </g>
  );
};

interface PanelProps {
  rows: { t: number; v: number }[];
  domain: Pt;
  yTicks: number[];
  color: string;
  top: number;
  showLabels?: boolean;
  fmt: (v: number) => string;
}

const Panel: React.FC<PanelProps> = ({ rows, domain, yTicks, color, top, showLabels, fmt }) => {
  const xAxisHeight = showLabels ? 100 : 60;
  return (
    <div style={{ position: "absolute", left: 0, top: top - 10 }}>
      <LineChart
        width={3000}
        height={10 + PLOT_H + xAxisHeight}
        data={rows}
        margin={{ top: 10, right: 34, bottom: 0, left: 0 }}
      >
        <CartesianGrid
          stroke="#b0b0b0"
          strokeWidth={1.7}
          verticalValues={hourTicks}
          horizontalValues={yTicks}
        />
        <XAxis
          dataKey="t"
          type="number"
          domain={[0, 24]}
          ticks={quarterTicks}
          interval={0}
          allowDataOverflow
          axisLine={false}
          tickLine={false}
          tickSize={0}
          tickMargin={0}
          height={xAxisHeight}
          tick={(p: any) => <XTick {...p} showLabels={showLabels} />}
        />
        <YAxis
          type="number"
          domain={domain}
          ticks={yTicks}
          interval={0}
          allowDataOverflow
          width={220}
          axisLine={false}
          tickSize={17}
          tickMargin={12}
          tickLine={{ stroke: SPINE, strokeWidth: 2.5 }}
          tick={{ fill: "#000", fontSize: 45 }}
          tickFormatter={fmt}
        />
        <Line
          type="linear"
          dataKey="v"
          stroke={color}
          strokeWidth={3}
          dot={false}
          isAnimationActive={false}
        />
        <ReferenceArea
          x1={0}
          x2={24}
          y1={domain[0]}
          y2={domain[1]}
          fill="none"
          stroke={SPINE}
          strokeWidth={2.5}
          ifOverflow="visible"
        />
      </LineChart>
    </div>
  );
};

const yLabels = [
  { text: "Trans. Power [W]", x: 57, y: 294 },
  { text: "Trans. Temp [°C]", x: 28, y: 793 },
  { text: "Rec. Temp [°C]", x: 28, y: 1293 },
  { text: "PC Temp [°C]", x: 99, y: 1791 },
];

export default function App() {
  return (
    <div
      style={{
        position: "absolute",
        left: 0,
        top: 0,
        width: 3000,
        height: 2160,
        background: "#fff",
        fontFamily: FONT,
      }}
    >
      <Panel rows={toRows(transPower)} domain={powerDomain} yTicks={powerTicks} color="#000000" top={60} fmt={(v) => v.toFixed(2)} />
      <Panel rows={toRows(transTemp)} domain={transTempDomain} yTicks={transTempTicks} color="#d62728" top={559} fmt={(v) => v.toFixed(2)} />
      <Panel rows={toRows(recTemp)} domain={recTempDomain} yTicks={recTempTicks} color="#ff7f0e" top={1059} fmt={(v) => v.toFixed(2)} />
      <Panel rows={toRows(pcTemp)} domain={pcTempDomain} yTicks={pcTempTicks} color="#1f77b4" top={1557} showLabels fmt={(v) => String(v)} />

      <svg
        width={3000}
        height={2160}
        style={{ position: "absolute", left: 0, top: 0, pointerEvents: "none" }}
      >
        <text x={1593} y={50} textAnchor="middle" fontSize={52} fill="#000">
          W-band Housekeeping 2024-03-22
        </text>
        {yLabels.map((l) => (
          <text
            key={l.text}
            x={l.x}
            y={l.y}
            transform={`rotate(-90 ${l.x} ${l.y})`}
            textAnchor="middle"
            dominantBaseline="central"
            fontSize={48}
            fill="#000"
          >
            {l.text}
          </text>
        ))}
        <text x={1593} y={2142} textAnchor="middle" fontSize={48} fill="#000">
          Time [UTC]
        </text>
      </svg>
    </div>
  );
}
